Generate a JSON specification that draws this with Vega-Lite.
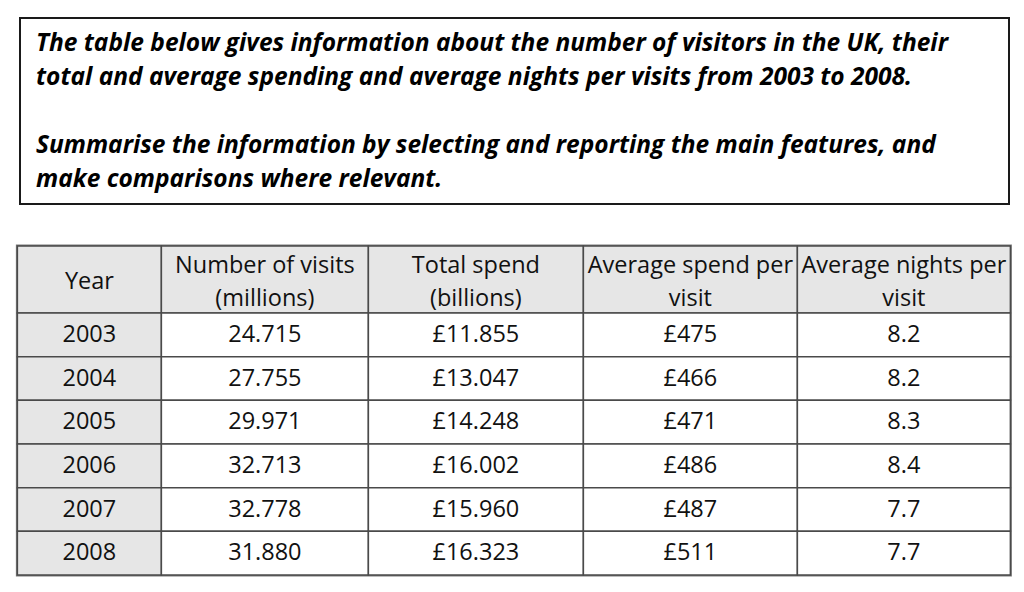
{
  "$schema": "https://vega.github.io/schema/vega-lite/v6.json",
  "background": "white",
  "padding": {"left": 15, "top": 17, "right": 10, "bottom": 10},
  "spacing": 38,
  "center": true,
  "config": {"view": {"stroke": null}},
  "vconcat": [
    {
      "width": 989,
      "height": 186,
      "view": {"stroke": "#1a1a1a", "strokeWidth": 2},
      "data": {"values": [
        {"line": 1, "text": "The table below gives information about the number of visitors in the UK, their"},
        {"line": 2, "text": "total and average spending and average nights per visits  from 2003 to 2008."},
        {"line": 4, "text": "Summarise the information by selecting and reporting the main features, and"},
        {"line": 5, "text": "make comparisons where relevant."}
      ]},
      "mark": {"type": "text", "align": "left", "baseline": "middle", "font": "Open Sans", "fontSize": 24.5, "fontWeight": "bold", "fontStyle": "italic", "color": "#000000"},
      "encoding": {
        "x": {"datum": 0, "type": "quantitative", "scale": {"domain": [0, 1], "range": [16, 989], "nice": false, "zero": false}, "axis": null},
        "y": {"field": "line", "type": "quantitative", "scale": {"domain": [1, 5], "range": [26, 162], "nice": false, "zero": false}, "axis": null},
        "text": {"field": "text"}
      }
    },
    {
      "width": 993,
      "height": 329,
      "view": {"stroke": "#7a7a7a", "strokeWidth": 3},
      "data": {"values": [
        {"Year": "Year", "Visits": "Number of visits\n(millions)", "Total": "Total spend\n(billions)", "AvgSpend": "Average spend per\nvisit", "AvgNights": "Average nights per\nvisit"},
        {"Year": "2003", "Visits": "24.715", "Total": "£11.855", "AvgSpend": "£475", "AvgNights": "8.2"},
        {"Year": "2004", "Visits": "27.755", "Total": "£13.047", "AvgSpend": "£466", "AvgNights": "8.2"},
        {"Year": "2005", "Visits": "29.971", "Total": "£14.248", "AvgSpend": "£471", "AvgNights": "8.3"},
        {"Year": "2006", "Visits": "32.713", "Total": "£16.002", "AvgSpend": "£486", "AvgNights": "8.4"},
        {"Year": "2007", "Visits": "32.778", "Total": "£15.960", "AvgSpend": "£487", "AvgNights": "7.7"},
        {"Year": "2008", "Visits": "31.880", "Total": "£16.323", "AvgSpend": "£511", "AvgNights": "7.7"}
      ]},
      "transform": [
        {"fold": ["Year", "Visits", "Total", "AvgSpend", "AvgNights"], "as": ["column", "value"]},
        {"calculate": "indexof(['Year','Visits','Total','AvgSpend','AvgNights'], datum.column)", "as": "ci"},
        {"calculate": "indexof(['Year','2003','2004','2005','2006','2007','2008'], datum.Year)", "as": "ri"},
        {"calculate": "datum.ci + 1", "as": "ci1"},
        {"calculate": "datum.ri + 1", "as": "ri1"},
        {"calculate": "datum.ci + 0.5", "as": "cm"},
        {"calculate": "datum.ri == 0 ? (datum.ci == 0 ? 0.54 : 0.3) : datum.ri + 0.5", "as": "rm"}
      ],
      "layer": [
        {
          "mark": {"type": "rect", "stroke": "#4a4a4a", "strokeWidth": 1.5},
          "encoding": {
            "x": {"field": "ci", "type": "quantitative", "scale": {"domain": [0, 1, 2, 3, 4, 5], "range": [0, 144, 351, 566, 780, 993], "nice": false, "zero": false}, "axis": null},
            "x2": {"field": "ci1"},
            "y": {"field": "ri", "type": "quantitative", "scale": {"domain": [0, 1, 2, 3, 4, 5, 6, 7], "range": [0, 67, 110.7, 154.3, 198, 241.7, 285.3, 329], "nice": false, "zero": false}, "axis": null},
            "y2": {"field": "ri1"},
            "fill": {"condition": {"test": "datum.ri == 0 || datum.ci == 0", "value": "#e6e6e6"}, "value": "#ffffff"}
          }
        },
        {
          "mark": {"type": "text", "align": "center", "baseline": "middle", "font": "Open Sans", "fontSize": 23.5, "lineBreak": "\n", "lineHeight": 33, "color": "#111111"},
          "encoding": {
            "x": {"field": "cm", "type": "quantitative", "axis": null},
            "y": {"field": "rm", "type": "quantitative", "axis": null},
            "text": {"field": "value"}
          }
        }
      ]
    }
  ]
}
